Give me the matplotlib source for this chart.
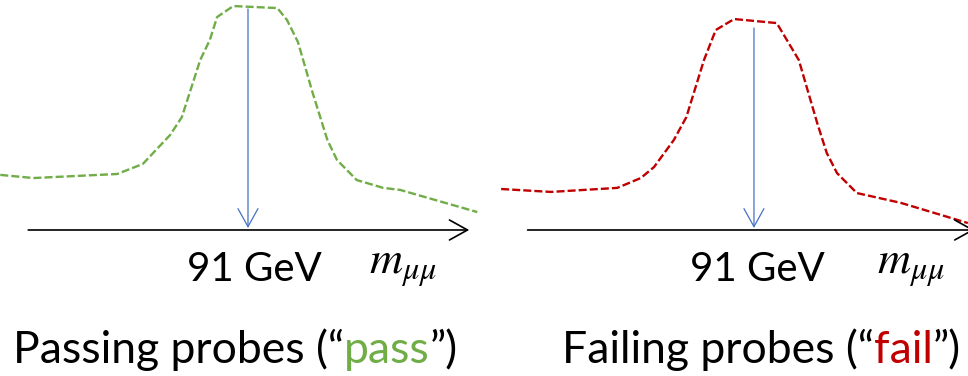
import matplotlib.pyplot as plt
from matplotlib import transforms

# dimuon mass (GeV) and arbitrary yields
mass_pass = [57.3, 61.8, 73.2, 76.7, 78.1, 80.4, 82.0, 84.5, 85.8, 86.8, 89.0,
             95.0, 96.3, 97.8, 99.8, 101.8, 103.1, 105.8, 109.4, 111.7, 122.2]
yield_pass = [24.6, 23.2, 25.0, 29.5, 34.4, 42.4, 50.4, 75.9, 84.8, 95.1, 100.0,
              99.1, 93.8, 83.9, 61.2, 40.2, 31.3, 22.3, 18.8, 17.9, 8.0]

mass_fail = [56.6, 63.4, 72.4, 75.6, 77.4, 80.1, 81.8, 84.2, 85.8, 88.3,
             94.1, 97.1, 99.6, 100.9, 102.3, 105.0, 111.0, 120.1]
yield_fail = [18.3, 17.0, 18.8, 23.2, 28.1, 40.2, 50.4, 75.9, 89.3, 94.2,
              92.4, 75.9, 47.8, 34.4, 25.4, 16.5, 12.1, 3.1]

z_mass = 91
arrow_top = [98.7, 90.2]
axis_range = [(61.1, 121.1), (60.2, 121.0)]
mass_label = "91 GeV"
labels = [("Passing probes (\u201c", "pass", "\u201d)"),
          ("Failing probes (\u201c", "fail", "\u201d)")]
colors = ["#70AD47", "#C00000"]

plt.rcParams['font.family'] = ['Lato', 'DejaVu Sans']
plt.rcParams['mathtext.fontset'] = 'stix'

fig = plt.figure(figsize=(9.68, 3.76), dpi=100)
renderer = fig.canvas.get_renderer()

panels = [
    (fig.add_axes([0, 0, 0.5, 1]), (57.26, 123.11), mass_pass, yield_pass, 59.0),
    (fig.add_axes([0.5, 0, 0.5, 1]), (54.27, 120.12), mass_fail, yield_fail, 64.9),
]

head = '->,head_length=0.65,head_width=0.36'

for i, (ax, xlim, m, y, text_x) in enumerate(panels):
    ax.set_xlim(*xlim)
    ax.set_ylim(-65.2, 102.7)
    ax.axis('off')

    ax.plot(m, y, color=colors[i], lw=1.7, linestyle=(0, (3.4, 1.3)))

    # mass axis
    ax.annotate('', xy=(axis_range[i][1], 0), xytext=(axis_range[i][0], 0),
                annotation_clip=False,
                arrowprops=dict(arrowstyle=head, color='black', lw=1.2,
                                shrinkA=0, shrinkB=0, mutation_scale=20))
    # Z peak marker
    ax.annotate('', xy=(z_mass, 0.9), xytext=(z_mass, arrow_top[i]),
                annotation_clip=False,
                arrowprops=dict(arrowstyle=head, color='#4472C4', lw=0.9,
                                shrinkA=0, shrinkB=0, mutation_scale=20))

    ax.text(z_mass + 0.9 - 0.45 * i, -23.0, mass_label, fontsize=29,
            ha='center', va='baseline')
    ax.text(z_mass + 16.4 + 0.4 * i, -19.5, r'$m_{\mu\mu}$', fontsize=33,
            ha='left', va='baseline')

    # caption with coloured keyword
    t = ax.text(text_x, -59.4, labels[i][0], fontsize=32, va='baseline')
    for piece, col in [(labels[i][1], colors[i]), (labels[i][2], 'black')]:
        w = t.get_window_extent(renderer).width
        tr = transforms.offset_copy(t.get_transform(), fig=fig, x=w, units='dots')
        t = ax.text(text_x, -59.4, piece, fontsize=32, va='baseline',
                    color=col, transform=tr)

fig.savefig('out.png', dpi=100)
